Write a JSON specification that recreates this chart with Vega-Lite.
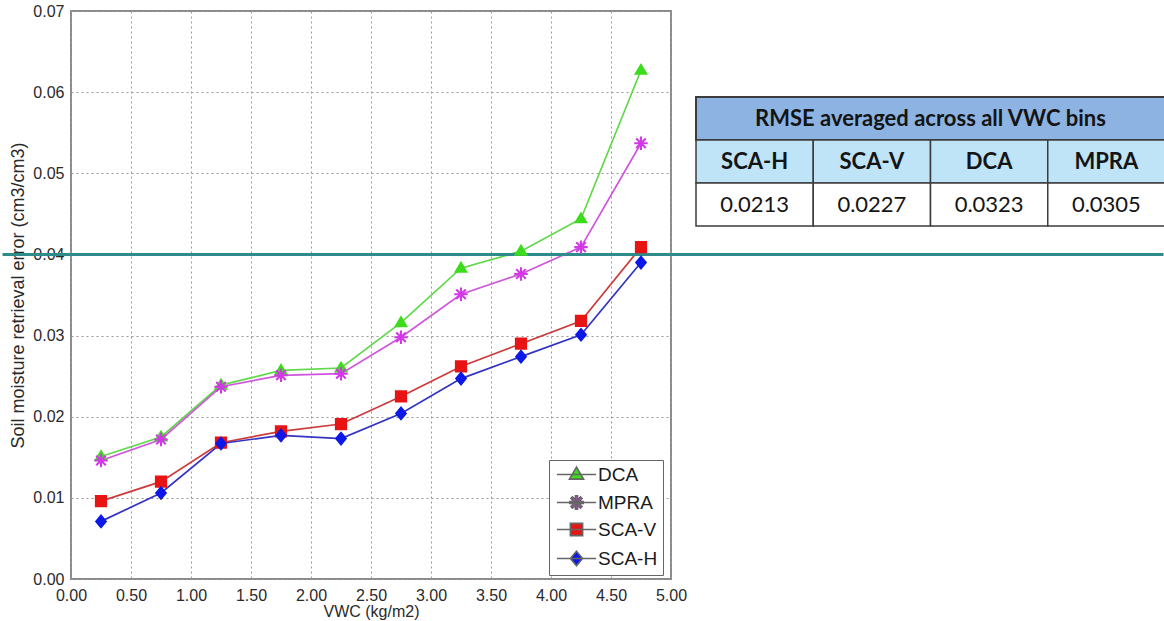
{
  "$schema": "https://vega.github.io/schema/vega-lite/v6.json",
  "padding": {"left": 0, "top": 2, "right": 0, "bottom": 0},
  "bounds": "flush",
  "spacing": 25,
  "resolve": {"legend": {"color": "independent", "shape": "independent"}},
  "config": {
    "view": {"stroke": null},
    "font": "Liberation Sans",
    "axis": {
      "domain": false,
      "ticks": false,
      "grid": true,
      "gridColor": "#999999",
      "gridDash": [2, 3],
      "gridWidth": 1,
      "labelFlush": false,
      "labelFont": "Liberation Sans",
      "labelFontSize": 16,
      "labelColor": "#2a2a2a",
      "titleFont": "Liberation Sans",
      "titleFontWeight": "normal",
      "titleColor": "#2a2a2a"
    }
  },
  "datasets": {
    "errors": [
      {"vwc": 0.25, "method": "DCA", "error": 0.0151},
      {"vwc": 0.75, "method": "DCA", "error": 0.0175},
      {"vwc": 1.25, "method": "DCA", "error": 0.0239},
      {"vwc": 1.75, "method": "DCA", "error": 0.0257},
      {"vwc": 2.25, "method": "DCA", "error": 0.0260},
      {"vwc": 2.75, "method": "DCA", "error": 0.0316},
      {"vwc": 3.25, "method": "DCA", "error": 0.0383},
      {"vwc": 3.75, "method": "DCA", "error": 0.0404},
      {"vwc": 4.25, "method": "DCA", "error": 0.0444},
      {"vwc": 4.75, "method": "DCA", "error": 0.0627},
      {"vwc": 0.25, "method": "MPRA", "error": 0.0146},
      {"vwc": 0.75, "method": "MPRA", "error": 0.0172},
      {"vwc": 1.25, "method": "MPRA", "error": 0.0237},
      {"vwc": 1.75, "method": "MPRA", "error": 0.0251},
      {"vwc": 2.25, "method": "MPRA", "error": 0.0253},
      {"vwc": 2.75, "method": "MPRA", "error": 0.0298},
      {"vwc": 3.25, "method": "MPRA", "error": 0.0351},
      {"vwc": 3.75, "method": "MPRA", "error": 0.0376},
      {"vwc": 4.25, "method": "MPRA", "error": 0.0409},
      {"vwc": 4.75, "method": "MPRA", "error": 0.0537},
      {"vwc": 0.25, "method": "SCA-V", "error": 0.0096},
      {"vwc": 0.75, "method": "SCA-V", "error": 0.0120},
      {"vwc": 1.25, "method": "SCA-V", "error": 0.0168},
      {"vwc": 1.75, "method": "SCA-V", "error": 0.0182},
      {"vwc": 2.25, "method": "SCA-V", "error": 0.0191},
      {"vwc": 2.75, "method": "SCA-V", "error": 0.0225},
      {"vwc": 3.25, "method": "SCA-V", "error": 0.0262},
      {"vwc": 3.75, "method": "SCA-V", "error": 0.0290},
      {"vwc": 4.25, "method": "SCA-V", "error": 0.0318},
      {"vwc": 4.75, "method": "SCA-V", "error": 0.0409},
      {"vwc": 0.25, "method": "SCA-H", "error": 0.0071},
      {"vwc": 0.75, "method": "SCA-H", "error": 0.0106},
      {"vwc": 1.25, "method": "SCA-H", "error": 0.0167},
      {"vwc": 1.75, "method": "SCA-H", "error": 0.0177},
      {"vwc": 2.25, "method": "SCA-H", "error": 0.0173},
      {"vwc": 2.75, "method": "SCA-H", "error": 0.0204},
      {"vwc": 3.25, "method": "SCA-H", "error": 0.0247},
      {"vwc": 3.75, "method": "SCA-H", "error": 0.0274},
      {"vwc": 4.25, "method": "SCA-H", "error": 0.0301},
      {"vwc": 4.75, "method": "SCA-H", "error": 0.0390}
    ],
    "threshold": [{"level": 0.04}],
    "head": [{"part": "title", "label": "RMSE averaged across all VWC bins"}],
    "cells": [
      {"method": "SCA-H", "rmse": "0.0213"},
      {"method": "SCA-V", "rmse": "0.0227"},
      {"method": "DCA", "rmse": "0.0323"},
      {"method": "MPRA", "rmse": "0.0305"}
    ]
  },
  "hconcat": [
    {
      "width": 600,
      "height": 568,
      "view": {"stroke": "#8a8a8a", "strokeWidth": 2},
      "layer": [
        {
          "data": {"name": "errors"},
          "mark": {"type": "line", "strokeWidth": 1.7},
          "encoding": {
            "x": {
              "field": "vwc", "type": "quantitative",
              "scale": {"domain": [0, 5], "nice": false, "zero": false},
              "axis": {
                "values": [0, 0.5, 1, 1.5, 2, 2.5, 3, 3.5, 4, 4.5, 5],
                "format": ".2f",
                "title": "VWC (kg/m2)",
                "titleFontSize": 16,
                "labelPadding": 8,
                "titlePadding": 0
              }
            },
            "y": {
              "field": "error", "type": "quantitative",
              "scale": {"domain": [0, 0.07], "nice": false},
              "axis": {
                "values": [0, 0.01, 0.02, 0.03, 0.04, 0.05, 0.06, 0.07],
                "format": ".2f",
                "title": "Soil moisture retrieval error (cm3/cm3)",
                "titleFontSize": 18,
                "labelPadding": 7,
                "titlePadding": 5
              }
            },
            "stroke": {
              "field": "method", "type": "nominal",
              "scale": {"domain": ["DCA", "MPRA", "SCA-V", "SCA-H"], "range": ["#5fd84a", "#cf55dc", "#cc3a3a", "#3434c4"]},
              "legend": null
            }
          }
        },
        {
          "data": {"name": "threshold"},
          "mark": {"type": "rule", "color": "#2e8c8a", "strokeWidth": 3},
          "encoding": {
            "y": {"field": "level", "type": "quantitative"},
            "x": {"datum": -0.5708},
            "x2": {"datum": 9.104}
          }
        },
        {
          "data": {"name": "errors"},
          "mark": {"type": "point", "filled": true, "opacity": 1, "size": 150},
          "encoding": {
            "x": {"field": "vwc", "type": "quantitative"},
            "y": {"field": "error", "type": "quantitative"},
            "color": {
              "field": "method", "type": "nominal",
              "scale": {"domain": ["DCA", "MPRA", "SCA-V", "SCA-H"], "range": ["#3cdc1c", "#d238e6", "#e81414", "#0c18e8"]},
              "legend": {
                "title": null,
                "orient": "none",
                "legendX": 478,
                "legendY": 449,
                "fillColor": "white",
                "strokeColor": "#666666",
                "padding": 5,
                "labelFont": "Liberation Sans",
                "labelFontSize": 19,
                "labelColor": "#1a1a1a",
                "labelOffset": 12,
                "symbolOffset": 13,
                "symbolSize": 150,
                "symbolStrokeWidth": 1.6,
                "symbolStrokeColor": "#666666",
                "rowPadding": 7,
                "encode": {
                  "symbols": {
                    "stroke": {"value": {"expr": "datum.value === 'DCA' ? '#5fd84a' : datum.value === 'MPRA' ? '#cf55dc' : datum.value === 'SCA-V' ? '#cc3a3a' : '#3434c4'"}}
                  }
                }
              }
            },
            "shape": {
              "field": "method", "type": "nominal",
              "scale": {
                "domain": ["DCA", "MPRA", "SCA-V", "SCA-H"],
                "range": [
                  "M-3.2,0L3.2,0M0,-1.2L1.15,0.75L-1.15,0.75Z",
                  "M-3.2,0L3.2,0M-1.1,-0.17L1.1,-0.17L1.1,0.17L-1.1,0.17ZM-0.17,-1.1L0.17,-1.1L0.17,1.1L-0.17,1.1ZM0.9,0.66L0.66,0.9L-0.9,-0.66L-0.66,-0.9ZM0.9,-0.66L-0.66,0.9L-0.9,0.66L0.66,-0.9Z",
                  "M-3.2,0L3.2,0M-1,-1L1,-1L1,1L-1,1Z",
                  "M-3.2,0L3.2,0M0,-1.2L1,0L0,1.2L-1,0Z"
                ]
              },
              "legend": {
                "title": null,
                "orient": "none",
                "legendX": 478,
                "legendY": 449,
                "padding": 5,
                "labelFontSize": 19,
                "labelOffset": 12,
                "symbolOffset": 13,
                "symbolSize": 150,
                "symbolStrokeWidth": 1.6,
                "symbolStrokeColor": "#666666",
                "rowPadding": 7,
                "encode": {
                  "symbols": {
                    "stroke": {"value": {"expr": "datum.value === 'DCA' ? '#5fd84a' : datum.value === 'MPRA' ? '#cf55dc' : datum.value === 'SCA-V' ? '#cc3a3a' : '#3434c4'"}}
                  }
                }
              }
            }
          }
        }
      ]
    },
    {
      "width": 469,
      "height": 215,
      "layer": [
        {
          "data": {"name": "head"},
          "mark": {"type": "rect", "fill": "#8db3e2", "stroke": "#3c3c3c", "strokeWidth": 2},
          "encoding": {
            "y": {
              "field": "part", "type": "nominal",
              "scale": {"domain": ["title", "names", "values"], "paddingInner": 0, "paddingOuter": 1.0175, "align": 1},
              "axis": null
            },
            "x": {"value": 0},
            "x2": {"value": "width"}
          }
        },
        {
          "data": {"name": "cells"},
          "mark": {"type": "rect", "fill": "#bfe3f7", "stroke": "#3c3c3c", "strokeWidth": 1.5},
          "encoding": {
            "x": {
              "field": "method", "type": "nominal",
              "scale": {"domain": ["SCA-H", "SCA-V", "DCA", "MPRA"], "paddingInner": 0, "paddingOuter": 0},
              "axis": null
            },
            "y": {"datum": "names"}
          }
        },
        {
          "data": {"name": "cells"},
          "mark": {"type": "rect", "fill": "white", "stroke": "#3c3c3c", "strokeWidth": 1.5},
          "encoding": {
            "x": {"field": "method", "type": "nominal"},
            "y": {"datum": "values"}
          }
        },
        {
          "data": {"name": "head"},
          "mark": {"type": "text", "font": "Lato", "fontWeight": "bold", "fontSize": 22, "color": "#141414"},
          "encoding": {
            "y": {"field": "part", "type": "nominal"},
            "text": {"field": "label"}
          }
        },
        {
          "data": {"name": "cells"},
          "mark": {"type": "text", "font": "Lato", "fontWeight": "bold", "fontSize": 22, "color": "#141414"},
          "encoding": {
            "x": {"field": "method", "type": "nominal"},
            "y": {"datum": "names"},
            "text": {"field": "method"}
          }
        },
        {
          "data": {"name": "cells"},
          "mark": {"type": "text", "font": "Lato", "fontSize": 22, "color": "#141414"},
          "encoding": {
            "x": {"field": "method", "type": "nominal"},
            "y": {"datum": "values"},
            "text": {"field": "rmse"}
          }
        }
      ]
    }
  ]
}
